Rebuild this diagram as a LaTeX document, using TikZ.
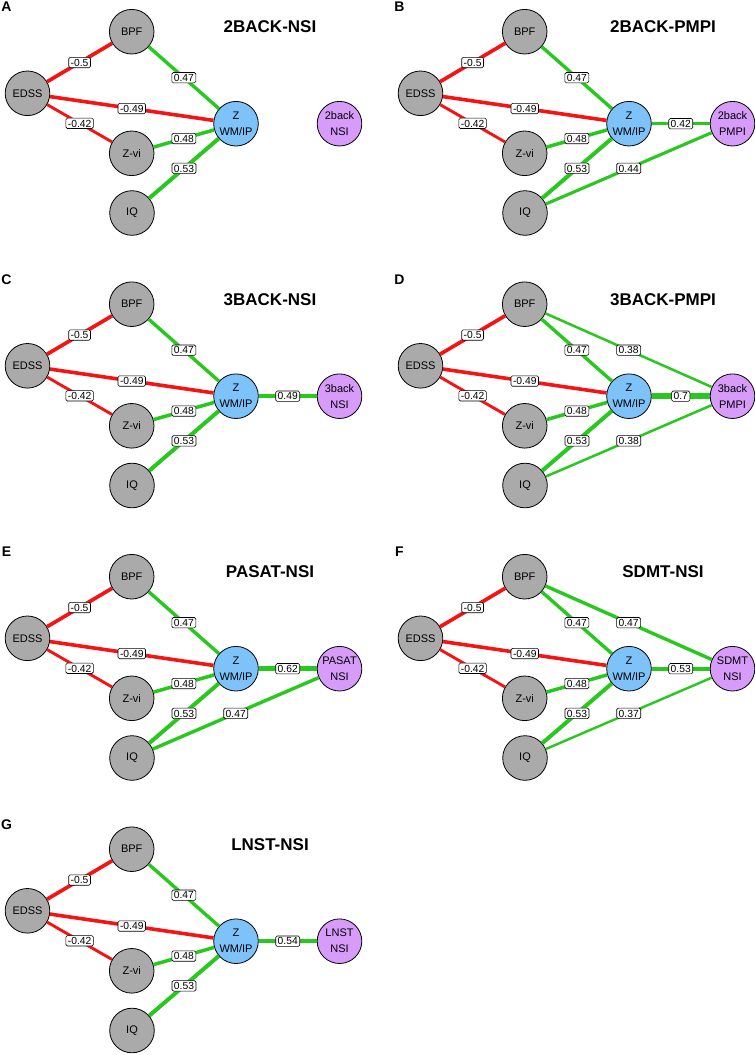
\documentclass[tikz,border=0pt]{standalone}
\usepackage{fontspec}
\setmainfont{Liberation Sans}
\usepackage{tikz}

\definecolor{negred}{RGB}{245,20,20}
\definecolor{posgreen}{RGB}{40,200,30}
\definecolor{vargray}{RGB}{170,170,170}
\definecolor{wmblue}{RGB}{125,195,250}
\definecolor{taskpurple}{RGB}{215,155,250}

\begin{document}
\begin{tikzpicture}[x=1pt, y=-1pt,
    var/.style={circle, draw=black, line width=0.8pt, fill=vargray, minimum size=44.6pt,
        inner sep=0pt, align=center, font=\fontsize{11}{16}\selectfont},
    wm/.style={var, fill=wmblue},
    task/.style={var, fill=taskpurple},
    neg/.style={draw=negred, line width={10*(#1-0.13)}},
    pos/.style={draw=posgreen, line width={10*(#1-0.13)}},
    lbl/.style={draw=black, line width=0.6pt, fill=white, rounded corners=1.5pt,
        inner xsep=2pt, inner ysep=1.5pt, text height=7.4pt, text depth=0pt,
        font=\fontsize{10.3}{10}\selectfont},
    panel/.style={font=\fontsize{14}{14}\bfseries},
    heading/.style={font=\fontsize{17}{17}\bfseries}]

    \useasboundingbox (0,0) rectangle (755,1055);

    \foreach \p/\cx/\cy/\ttl/\tgt in {
        A/0/0/2BACK-NSI/{2back\\NSI}, B/1/0/2BACK-PMPI/{2back\\PMPI},
        C/0/1/3BACK-NSI/{3back\\NSI}, D/1/1/3BACK-PMPI/{3back\\PMPI},
        E/0/2/PASAT-NSI/{PASAT\\NSI}, F/1/2/SDMT-NSI/{SDMT\\NSI},
        G/0/3/LNST-NSI/{LNST\\NSI}}
    {
        \begin{scope}[shift={(393*\cx, 272.5*\cy)}]
            \node[panel] (\p-letter) at (6.5, 7) {\p};
            \node[heading] (\p-title) at (270, 27) {\ttl};

            \node[var] (\p-edss) at (27.5, 93.3) {EDSS};
            \node[var] (\p-bpf) at (131.7, 31.7) {BPF};
            \node[var] (\p-zvi) at (131.7, 153.3) {Z-vi};
            \node[var] (\p-iq) at (132, 213) {IQ};
            \node[wm] (\p-z) at (236, 123.7) {Z\\WM/IP};
            \node[task] (\p-task) at (339.5, 123.7) {\tgt};

            \draw[neg=0.5] (\p-edss) -- node[lbl] {-0.5} (\p-bpf);
            \draw[neg=0.49] (\p-edss) -- node[lbl] {-0.49} (\p-z);
            \draw[neg=0.42] (\p-edss) -- node[lbl] {-0.42} (\p-zvi);
            \draw[pos=0.47] (\p-bpf) -- node[lbl] {0.47} (\p-z);
            \draw[pos=0.48] (\p-zvi) -- node[lbl] {0.48} (\p-z);
            \draw[pos=0.53] (\p-iq) -- node[lbl] {0.53} (\p-z);
        \end{scope}
    }

    \draw[pos=0.42] (B-z) -- node[lbl] {0.42} (B-task);
    \draw[pos=0.44] (B-iq) -- node[lbl] {0.44} (B-task);

    \draw[pos=0.49] (C-z) -- node[lbl] {0.49} (C-task);

    \draw[pos=0.38] (D-bpf) -- node[lbl] {0.38} (D-task);
    \draw[pos=0.7] (D-z) -- node[lbl] {0.7} (D-task);
    \draw[pos=0.38] (D-iq) -- node[lbl] {0.38} (D-task);

    \draw[pos=0.62] (E-z) -- node[lbl] {0.62} (E-task);
    \draw[pos=0.47] (E-iq) -- node[lbl] {0.47} (E-task);

    \draw[pos=0.47] (F-bpf) -- node[lbl] {0.47} (F-task);
    \draw[pos=0.53] (F-z) -- node[lbl] {0.53} (F-task);
    \draw[pos=0.37] (F-iq) -- node[lbl] {0.37} (F-task);

    \draw[pos=0.54] (G-z) -- node[lbl] {0.54} (G-task);

\end{tikzpicture}
\end{document}
